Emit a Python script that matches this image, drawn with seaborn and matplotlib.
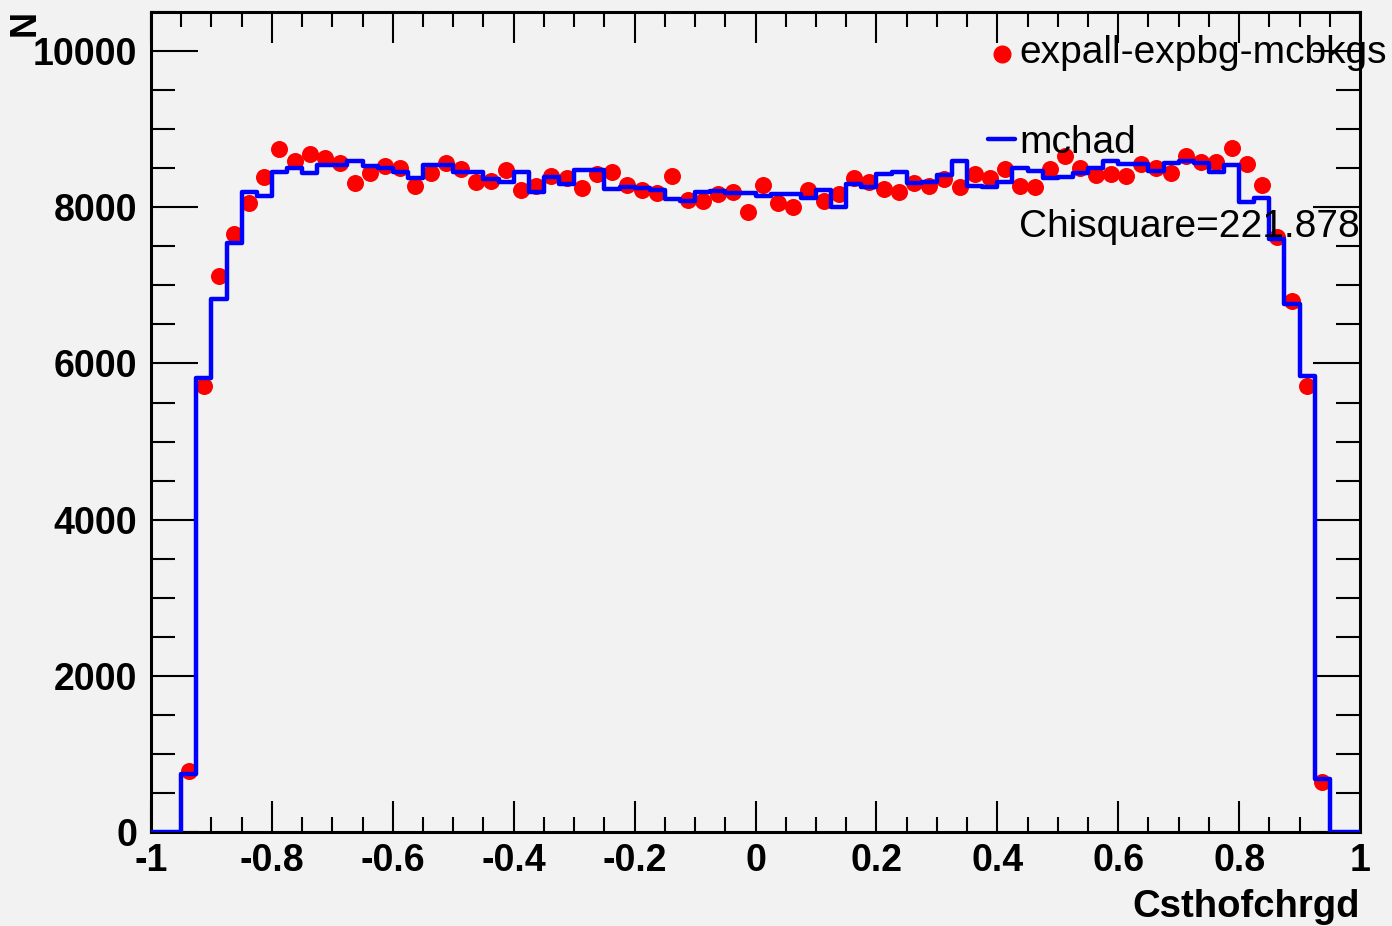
import numpy as np
import pandas as pd
import matplotlib
matplotlib.use('Agg')
import matplotlib.pyplot as plt
import seaborn as sns
from matplotlib.ticker import MultipleLocator, FuncFormatter

# 80 bins over cos(theta) in [-1, 1]
n_bins = 80
x_range = (-1, 1)
bin_edges = np.linspace(x_range[0], x_range[1], n_bins + 1)
bin_centers = (bin_edges[:-1] + bin_edges[1:]) / 2

# MC hadronic histogram (blue step)
mchad = [
    0, 0, 743, 5813, 6825, 7542, 8195, 8143, 8451, 8502,
    8438, 8540, 8540, 8592, 8527, 8502, 8451, 8374, 8540, 8540,
    8451, 8447, 8361, 8323, 8451, 8195, 8387, 8297, 8476, 8476,
    8233, 8259, 8246, 8220, 8105, 8080, 8195, 8207, 8182, 8182,
    8143, 8175, 8169, 8118, 8220, 8003, 8297, 8259, 8425, 8451,
    8310, 8323, 8412, 8592, 8271, 8259, 8323, 8502, 8463, 8374,
    8387, 8438, 8502, 8592, 8553, 8553, 8463, 8566, 8592, 8566,
    8451, 8540, 8067, 8118, 7593, 6761, 5839, 679, 0, 0,
]

# expall - expbg - mcbkgs (red points), empty bins not drawn
expall_sub = [
    np.nan, np.nan, 781, 5711, 7119, 7657, 8054, 8387, 8745, 8591,
    8681, 8630, 8566, 8310, 8438, 8527, 8502, 8271, 8438, 8566,
    8495, 8323, 8336, 8476, 8220, 8271, 8399, 8374, 8246, 8425,
    8451, 8284, 8220, 8182, 8399, 8092, 8080, 8169, 8195, 7939,
    8284, 8054, 8003, 8220, 8080, 8169, 8374, 8323, 8233, 8195,
    8310, 8271, 8361, 8259, 8425, 8374, 8489, 8271, 8259, 8489,
    8656, 8508, 8412, 8425, 8399, 8553, 8502, 8438, 8656, 8579,
    8579, 8758, 8553, 8284, 7618, 6799, 5711, 640, np.nan, np.nan,
]

chisquare = 221.878

df = pd.DataFrame({'x': bin_centers, 'mchad': mchad, 'data': expall_sub})

sns.set_style('ticks')
plt.rcParams['font.family'] = ['Liberation Sans', 'DejaVu Sans']
plt.rcParams['font.weight'] = 'bold'
plt.rcParams['text.color'] = 'black'

bg = '#f2f2f2'
fig = plt.figure(figsize=(13.92, 9.26), dpi=100, facecolor=bg)
ax = fig.add_axes([0.1085, 0.1015, 0.8685, 0.8855])
ax.set_facecolor(bg)

sns.scatterplot(data=df, x='x', y='data', color='red', s=150, linewidth=0,
                ax=ax, zorder=2, legend=False)
sns.histplot(data=df, x='x', weights='mchad', bins=n_bins, binrange=x_range,
             element='step', fill=False, color='blue', linewidth=3.2, ax=ax, zorder=3)

ax.set_xlim(-1, 1)
ax.set_ylim(0, 10500)
ax.set_xlabel('')
ax.set_ylabel('')

ax.xaxis.set_major_locator(MultipleLocator(0.2))
ax.xaxis.set_minor_locator(MultipleLocator(0.05))
ax.xaxis.set_major_formatter(FuncFormatter(lambda v, p: f'{round(v, 1):g}' if abs(v) > 1e-9 else '0'))
ax.yaxis.set_major_locator(MultipleLocator(2000))
ax.yaxis.set_minor_locator(MultipleLocator(500))

ax.tick_params(axis='both', which='both', direction='in', top=True, right=True,
               width=1.5, colors='black', labelsize=27)
ax.tick_params(axis='y', which='major', length=34, pad=10)
ax.tick_params(axis='y', which='minor', length=17)
ax.tick_params(axis='x', which='major', length=22, pad=8)
ax.tick_params(axis='x', which='minor', length=11)
for s in ax.spines.values():
    s.set_linewidth(2.2)
    s.set_color('black')

# legend in ROOT style
ax.plot([0.704], [0.949], 'o', color='red', ms=12, transform=ax.transAxes, clip_on=False)
ax.text(0.718, 0.938, 'expall-expbg-mcbkgs', transform=ax.transAxes, fontsize=28,
        fontweight='normal', va='baseline', clip_on=False)
ax.plot([0.692, 0.715], [0.845, 0.845], color='blue', lw=3.2, transform=ax.transAxes)
ax.text(0.718, 0.828, 'mchad', transform=ax.transAxes, fontsize=28,
        fontweight='normal', va='baseline')
ax.text(0.718, 0.726, f'Chisquare={chisquare}', transform=ax.transAxes, fontsize=28,
        fontweight='normal', va='baseline')

fig.text(0.977, 0.0097, 'Csthofchrgd', fontsize=27.5, fontweight='bold',
         ha='right', va='baseline')
fig.text(25 / 1392, 1 - 23 / 926, 'N', fontsize=26, fontweight='bold',
         rotation=90, ha='center', va='center')

fig.savefig('out.png', dpi=100, facecolor=bg)
